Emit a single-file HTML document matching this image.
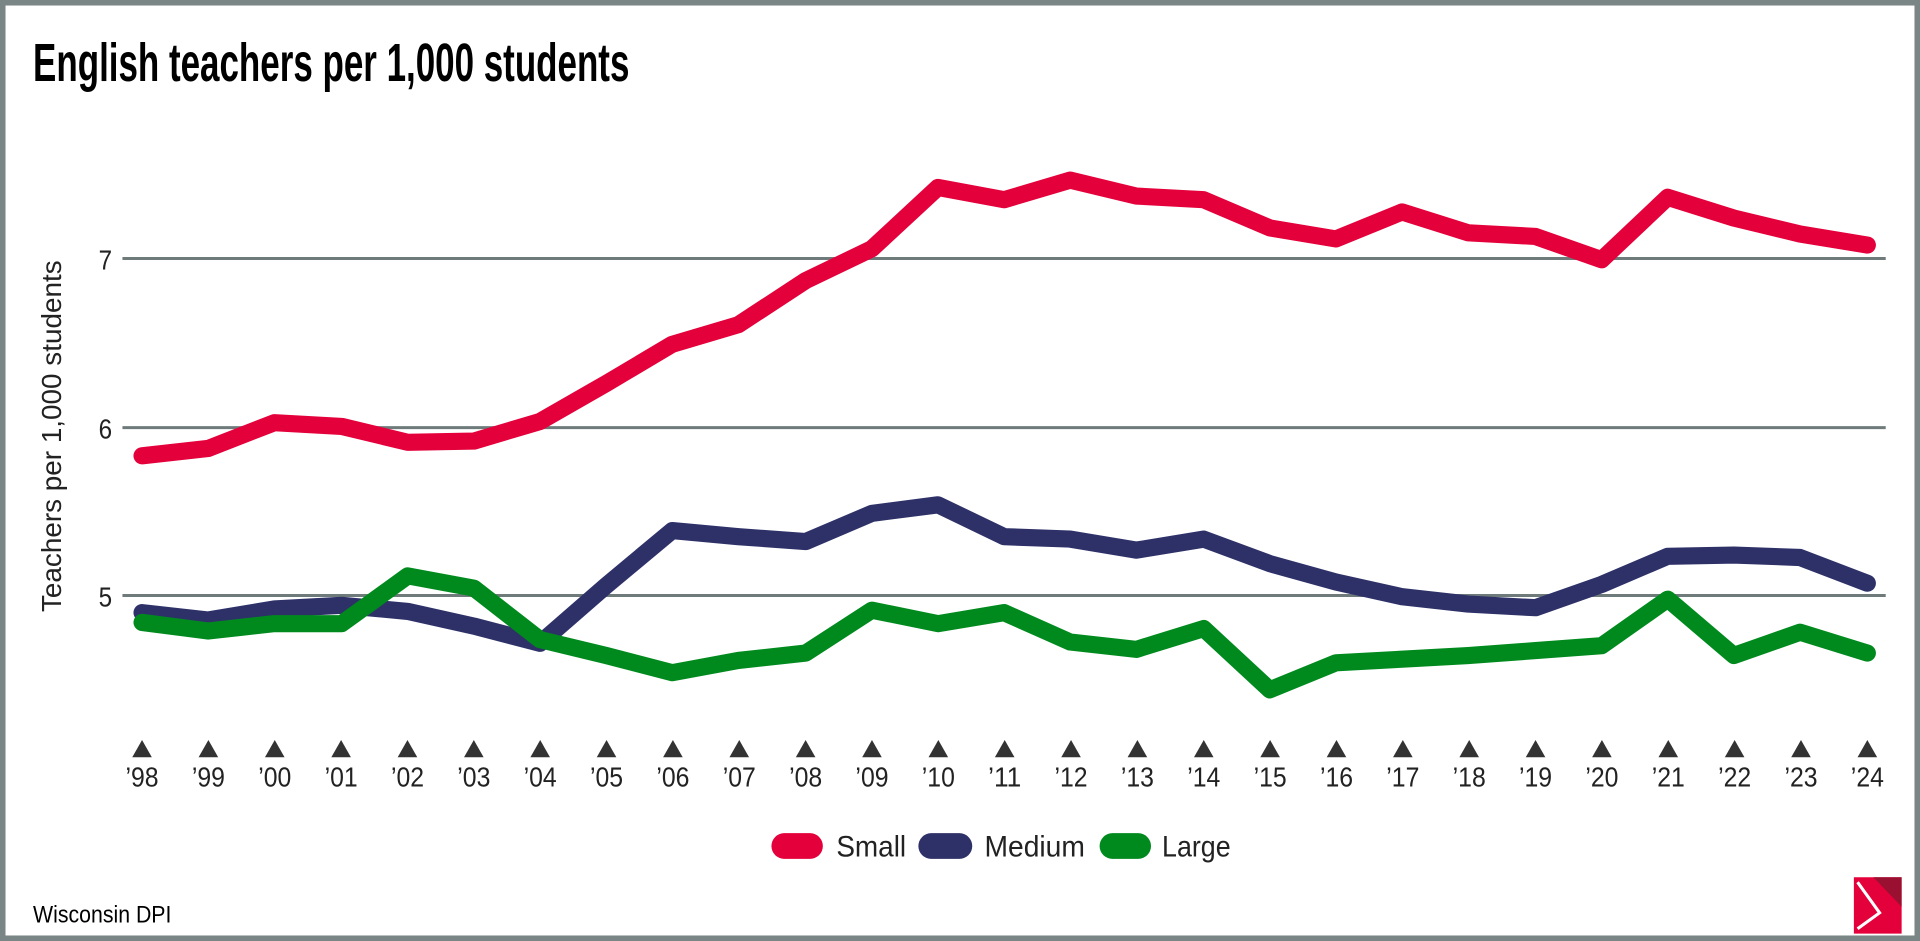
<!DOCTYPE html>
<html><head><meta charset="utf-8"><style>
html,body{margin:0;padding:0;background:#fff;}
svg{display:block}
text{font-family:"Liberation Sans Narrow","Liberation Sans",sans-serif;fill:#222}
</style></head><body>
<svg width="1920" height="941" viewBox="0 0 1568 768" preserveAspectRatio="none" xmlns="http://www.w3.org/2000/svg">
<rect x="2" y="2" width="1564" height="764" fill="#fff" stroke="#7a8585" stroke-width="5"/>
<text x="27" y="66" font-size="44" font-weight="bold" style="fill:#000" textLength="487" lengthAdjust="spacingAndGlyphs">English teachers per 1,000 students</text>
<g stroke="#6f7b7b" stroke-width="2.5">
<line x1="100" y1="211" x2="1540" y2="211"/>
<line x1="100" y1="349" x2="1540" y2="349"/>
<line x1="100" y1="486" x2="1540" y2="486"/>
</g>
<g font-size="23" text-anchor="middle">
<text x="86" y="220" textLength="11" lengthAdjust="spacingAndGlyphs">7</text><text x="86" y="358" textLength="11" lengthAdjust="spacingAndGlyphs">6</text><text x="86" y="495" textLength="11" lengthAdjust="spacingAndGlyphs">5</text>
</g>
<text transform="translate(50,356) rotate(-90)" font-size="23" text-anchor="middle" textLength="287" lengthAdjust="spacingAndGlyphs">Teachers per 1,000 students</text>
<g fill="none" stroke-width="14" stroke-linejoin="round" stroke-linecap="round">
<polyline stroke="#e4003a" points="116,372 170,366 224,345 279,348 333,361 387,360 441,344 495,313 549,281 603,265 658,229 712,203 766,153 820,163 874,147 928,160 983,163 1037,186 1091,195 1145,173 1199,190 1254,193 1308,212 1362,161 1416,178 1470,191 1525,200"/>
<polyline stroke="#2e3168" points="116,500 170,506 224,497 279,494 333,499 387,511 441,525 495,478 549,433 603,438 658,442 712,419 766,412 820,438 874,440 928,449 983,440 1037,460 1091,475 1145,487 1199,493 1254,496 1308,477 1362,454 1416,453 1470,455 1525,476"/>
<polyline stroke="#008a1e" points="116,508 170,515 224,509 279,509 333,470 387,480 441,522 495,535 549,549 603,539 658,533 712,498 766,509 820,500 874,524 928,530 983,513 1037,563 1091,541 1145,538 1199,535 1254,531 1308,527 1362,489 1416,535 1470,516 1525,533"/>
</g>
<g id="ticks" fill="#333"></g>
<g font-size="23" text-anchor="middle" id="labs"></g>
<g font-size="24">
<rect x="630" y="680" width="42" height="21" rx="10.5" fill="#e4003a"/>
<rect x="750" y="680" width="44" height="21" rx="10.5" fill="#2e3168"/>
<rect x="898" y="680" width="42" height="21" rx="10.5" fill="#008a1e"/>
<text x="683" y="699" textLength="57" lengthAdjust="spacingAndGlyphs">Small</text>
<text x="804" y="699" textLength="82" lengthAdjust="spacingAndGlyphs">Medium</text>
<text x="949" y="699" textLength="56" lengthAdjust="spacingAndGlyphs">Large</text>
</g>
<text x="27" y="753" font-size="20" style="fill:#000" textLength="113" lengthAdjust="spacingAndGlyphs">Wisconsin DPI</text>
<polygon points="1514,716 1553,716 1553,762 1514,762" fill="#e4003a"/>
<polygon points="1530,716 1553,716 1553,740" fill="#9a1030"/>
<polyline points="1517,720 1535,745 1517,758" fill="none" stroke="#fff" stroke-width="2.5"/>
<script>
var t=document.getElementById('ticks'),l=document.getElementById('labs'),ns='http://www.w3.org/2000/svg';
var yrs=["98","99","00","01","02","03","04","05","06","07","08","09","10","11","12","13","14","15","16","17","18","19","20","21","22","23","24"];
for(var i=0;i<27;i++){var x=116+i*(1525-116)/26;
var p=document.createElementNS(ns,'polygon');p.setAttribute('points',(x-8)+',618 '+x+',604 '+(x+8)+',618');t.appendChild(p);
var s=document.createElementNS(ns,'text');s.setAttribute('x',x);s.setAttribute('y',642);s.setAttribute('textLength',27);s.setAttribute('lengthAdjust','spacingAndGlyphs');s.textContent='\u2019'+yrs[i];l.appendChild(s);}
</script>
</svg>
</body></html>
